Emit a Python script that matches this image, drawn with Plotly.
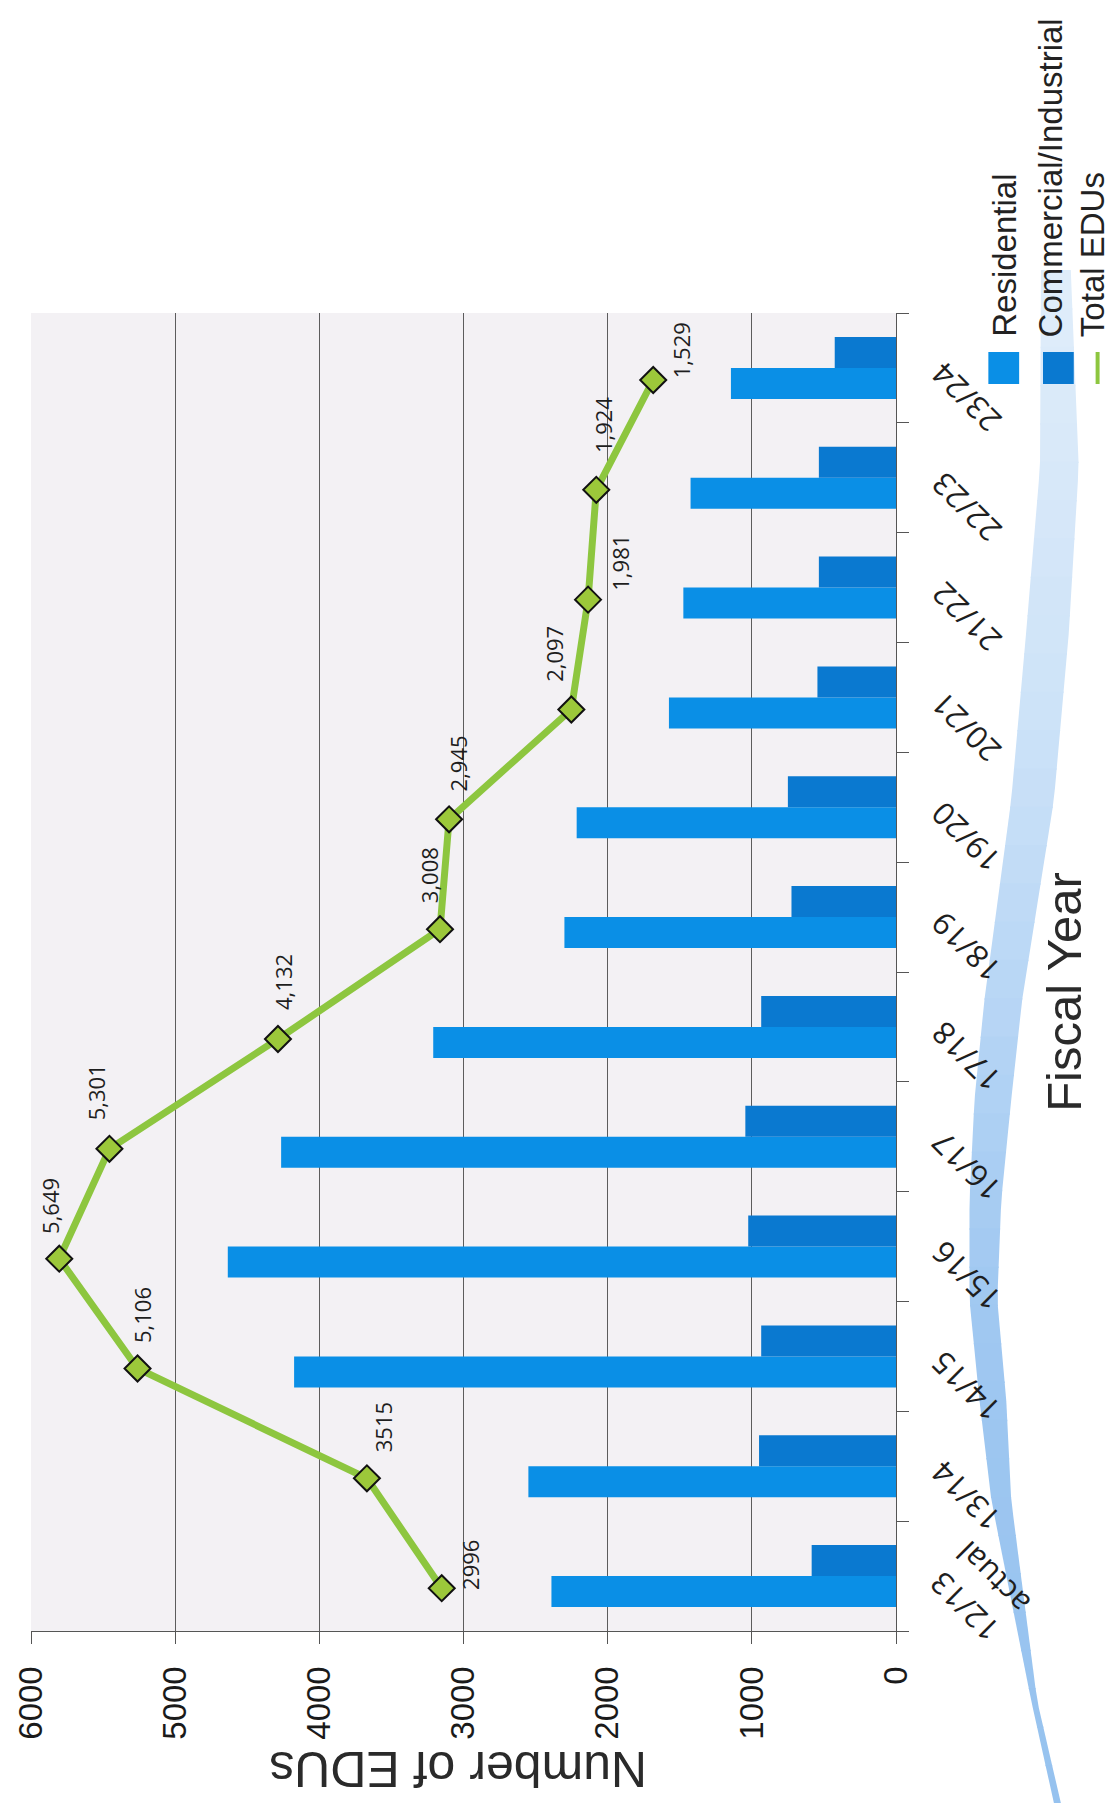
import plotly.graph_objects as go

# ---------------- data ----------------
categories = ["12/13 actual", "13/14", "14/15", "15/16", "16/17", "17/18",
              "18/19", "19/20", "20/21", "21/22", "22/23", "23/24"]
category_labels = ["12/13<br>actual", "13/14", "14/15", "15/16", "16/17", "17/18",
                   "18/19", "19/20", "20/21", "21/22", "22/23", "23/24"]
residential = [2390, 2550, 4175, 4635, 4265, 3210, 2300, 2215, 1575, 1475, 1425, 1145]
commercial = [585, 950, 935, 1025, 1045, 935, 725, 750, 545, 535, 535, 425]
total_edus = [2996, 3515, 5106, 5649, 5301, 4132, 3008, 2945, 2097, 1981, 1924, 1529]
total_labels = ["2996", "3515", "5,106", "5,649", "5,301", "4,132", "3,008",
                "2,945", "2,097", "1,981", "1,924", "1,529"]
value_ticks = [0, 1000, 2000, 3000, 4000, 5000, 6000]
legend_names = ["Residential", "Commercial/Industrial", "Total EDUs"]

# ---------------- styles ----------------
W, H = 1108, 1803
PL, PR, PT, PB = 25, 896, 313, 1631          # plot-area pixel box
RES_C = "#0a8fe6"
COM_C = "#0a79d0"
GREEN = "#8dc63f"
DIAMOND = "#9cc83a"
GRID = "#5c5c5c"
AXIS_FONT = "Liberation Sans"
LABEL_FONT = "Open Sans"
# per-label (dx, dy) pixel offsets of the data labels from their markers
label_offsets = [(28, 23), (16, 51), (4, 53), (-10, 53), (-14, 57), (5, 57),
                 (-11, 54), (9, 56), (-18, 56), (32, 37), (7, 65), (28, 30)]
LINE_AXIS_SHIFT_X = 155     # secondary value axis offset (as drawn in source)
LINE_AXIS_SHIFT_Y = 0.11    # secondary category axis offset


def px(x, y):
    """pixel -> paper coordinates"""
    return (x - PL) / (PR - PL), (PB - y) / (PB - PT)


fig = go.Figure()
fig.add_trace(go.Bar(orientation="h", y=categories, x=residential, name=legend_names[0],
                     marker=dict(color=RES_C, line=dict(width=0))))
fig.add_trace(go.Bar(orientation="h", y=categories, x=commercial, name=legend_names[1],
                     marker=dict(color=COM_C, line=dict(width=0))))
fig.add_trace(go.Scatter(x=total_edus, y=categories, xaxis="x2", yaxis="y2",
                         mode="lines+markers", name=legend_names[2],
                         line=dict(color=GREEN, width=7),
                         marker=dict(symbol="diamond", size=20, color=DIAMOND,
                                     line=dict(color="#111111", width=2))))

annotations = []
# data labels
for v, c, t, (dx, dy) in zip(total_edus, categories, total_labels, label_offsets):
    annotations.append(dict(x=v, y=c, xref="x2", yref="y2", text=t, showarrow=False,
                            textangle=-90, xanchor="center", yanchor="middle",
                            xshift=dx, yshift=dy,
                            font=dict(family=LABEL_FONT, size=22, color="#1e1e1e")))
# category labels (rotated)
for c, t in zip(categories, category_labels):
    multi = "<br>" in t
    annotations.append(dict(x=1, y=c, xref="paper", yref="y", text=t, showarrow=False,
                            textangle=-135, xanchor="center", yanchor="middle",
                            xshift=83 if multi else 70, yshift=-17 if multi else -30,
                            font=dict(family=LABEL_FONT, size=31, color="#1e1e1e")))
# axis titles
fx, fy = px(1065, 992)
annotations.append(dict(x=fx, y=fy, xref="paper", yref="paper", text="Fiscal Year",
                        showarrow=False, textangle=-90, xanchor="center", yanchor="middle",
                        font=dict(family=AXIS_FONT, size=49, color="#2a2a2a")))
nx, ny = px(455, 1769)
annotations.append(dict(x=nx, y=ny, xref="paper", yref="paper", text="Number of EDUs",
                        showarrow=False, textangle=180, xanchor="center", yanchor="middle",
                        font=dict(family=AXIS_FONT, size=50, color="#2a2a2a")))
# legend texts
for name, xc in zip(legend_names, [1005, 1052, 1094]):
    lx, ly = px(xc, 338)
    annotations.append(dict(x=lx, y=ly, xref="paper", yref="paper", text=name,
                            showarrow=False, textangle=-90, xanchor="center", yanchor="bottom",
                            borderpad=0,
                            font=dict(family=AXIS_FONT, size=33, color="#222222")))

shapes = []
# decorative swoosh, drawn as thin slices with a vertical colour gradient
left_edge = [(1042, 270), (1041, 467), (1027, 633), (1012, 800), (985, 1000), (975, 1100),
             (970, 1200), (970, 1300), (980, 1400), (992, 1500), (1012, 1600), (1032, 1700),
             (1055, 1803)]
right_edge = [(1072, 270), (1080, 467), (1070, 633), (1055, 800), (1023, 1000), (1012, 1100),
              (1002, 1200), (998, 1300), (1007, 1400), (1012, 1500), (1025, 1600), (1038, 1700),
              (1062, 1803)]
color_stops = [(270, (224, 237, 250)), (700, (206, 227, 248)), (1000, (184, 214, 245)),
               (1300, (160, 200, 241)), (1803, (150, 194, 239))]


def interp(edge, y):
    for (x0, y0), (x1, y1) in zip(edge[:-1], edge[1:]):
        if y0 <= y <= y1:
            return x0 + (x1 - x0) * (y - y0) / (y1 - y0)
    return edge[-1][0]


def color_at(y):
    for (y0, c0), (y1, c1) in zip(color_stops[:-1], color_stops[1:]):
        if y0 <= y <= y1:
            f = (y - y0) / (y1 - y0)
            return "rgb(%d,%d,%d)" % tuple(round(a + (b - a) * f) for a, b in zip(c0, c1))
    return "rgb(%d,%d,%d)" % color_stops[-1][1]


n_slices = 40
y_top, y_bot = 270, 1803
for k in range(n_slices):
    ya = y_top + (y_bot - y_top) * k / n_slices
    yb = y_top + (y_bot - y_top) * (k + 1) / n_slices + 1.5
    yb = min(yb, y_bot)
    ys = [ya, (ya + yb) / 2, yb]
    pts = [(interp(left_edge, y), y) for y in ys] + [(interp(right_edge, y), y) for y in ys[::-1]]
    path = "M " + " L ".join("%.5f,%.5f" % px(x, y) for x, y in pts) + " Z"
    shapes.append(dict(type="path", path=path, xref="paper", yref="paper",
                       fillcolor=color_at((ya + yb) / 2), line=dict(width=0), layer="below"))
# legend keys
for (x0, x1), col in zip([(989, 1020), (1044, 1075), (1097, 1101)], [RES_C, COM_C, GREEN]):
    a = px(x0, 384)
    b = px(x1, 352)
    shapes.append(dict(type="rect", xref="paper", yref="paper", x0=a[0], y0=a[1],
                       x1=b[0], y1=b[1], fillcolor=col, line=dict(width=0)))

fig.update_layout(
    width=W, height=H,
    margin=dict(l=PL, r=W - PR, t=PT, b=H - PB, pad=0),
    paper_bgcolor="white", plot_bgcolor="#f3f1f4",
    barmode="group", bargap=0.436, bargroupgap=0,
    showlegend=False,
    xaxis=dict(range=[6000, 0], tickvals=value_ticks, ticktext=[str(v) for v in value_ticks],
               tickangle=-90, ticks="outside", ticklen=12, tickcolor="#555555",
               ticklabelstandoff=9,
               showline=True, linecolor="#555555", linewidth=1.2,
               showgrid=True, gridcolor=GRID, gridwidth=1.2, zeroline=False,
               tickfont=dict(family=AXIS_FONT, size=33, color="#1a1a1a")),
    yaxis=dict(type="category", categoryorder="array", categoryarray=categories,
               range=[-0.5, 11.5], side="right", showticklabels=False,
               ticks="outside", tickson="boundaries", ticklen=12, tickcolor="#555555",
               showline=True, linecolor="#555555", linewidth=1.2, showgrid=False,
               zeroline=False),
    xaxis2=dict(overlaying="x", anchor="y", range=[6000 - LINE_AXIS_SHIFT_X, -LINE_AXIS_SHIFT_X],
                visible=False),
    yaxis2=dict(overlaying="y", anchor="x", type="category", categoryorder="array",
                categoryarray=categories,
                range=[-0.5 + LINE_AXIS_SHIFT_Y, 11.5 + LINE_AXIS_SHIFT_Y], visible=False),
    annotations=annotations,
    shapes=shapes,
)

fig.write_html("out.html", config={"displayModeBar": False},
               post_script="document.body.style.margin='0px';"
                           "document.body.style.overflow='hidden';")
